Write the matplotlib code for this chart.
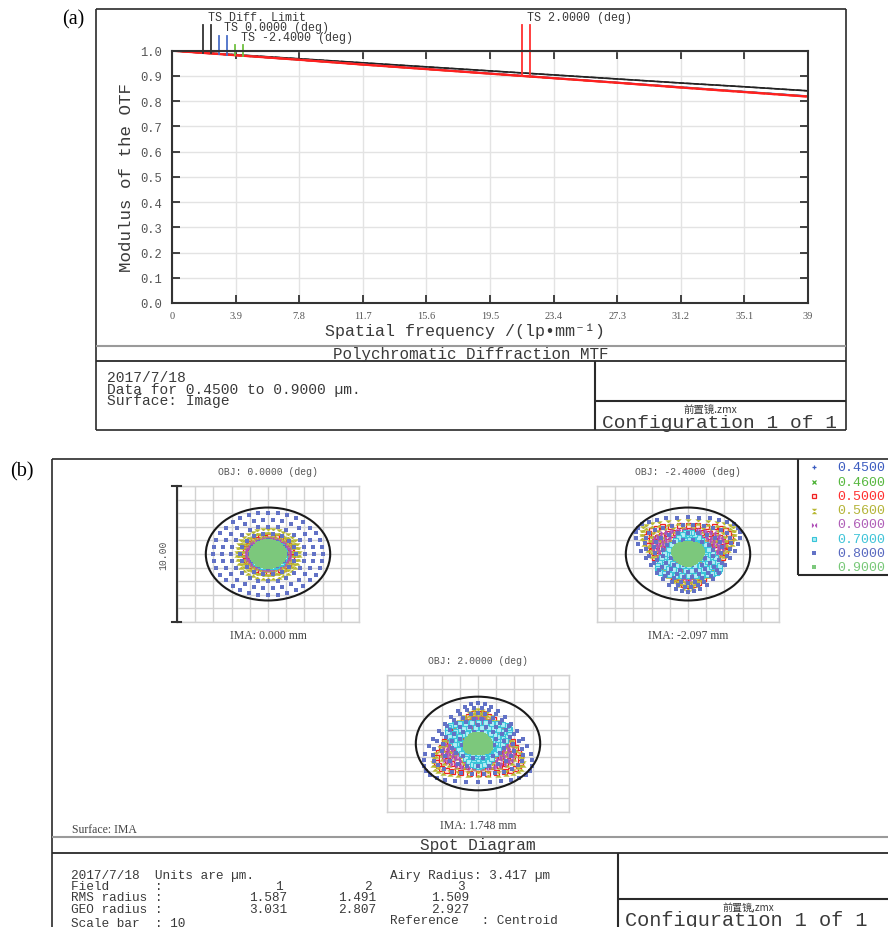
import numpy as np
import matplotlib
matplotlib.use("Agg")
import matplotlib.pyplot as plt
from matplotlib.patches import Circle

plt.rcParams['font.family'] = ['Liberation Mono', 'DejaVu Sans Mono', 'Noto Sans CJK SC']

W, H = 888, 928

# ---------------- data : MTF ----------------
freq = [0, 3.9, 7.8, 11.7, 15.6, 19.5, 23.4, 27.3, 31.2, 35.1, 39]
xtick_labels = ['0', '3.9', '7.8', '11.7', '15.6', '19.5', '23.4', '27.3', '31.2', '35.1', '39']
ytick_vals = [0.0, 0.1, 0.2, 0.3, 0.4, 0.5, 0.6, 0.7, 0.8, 0.9, 1.0]
ytick_labels = ['0.0', '0.1', '0.2', '0.3', '0.4', '0.5', '0.6', '0.7', '0.8', '0.9', '1.0']
mtf_diff = [1.000, 0.984, 0.968, 0.952, 0.936, 0.920, 0.904, 0.888, 0.872, 0.857, 0.841]
mtf_f0_T = [1.000, 0.982, 0.964, 0.946, 0.928, 0.910, 0.892, 0.874, 0.856, 0.838, 0.820]
mtf_f0_S = [1.000, 0.982, 0.964, 0.946, 0.928, 0.910, 0.892, 0.874, 0.856, 0.838, 0.820]
mtf_f1_T = [1.000, 0.982, 0.964, 0.945, 0.927, 0.909, 0.891, 0.873, 0.855, 0.837, 0.819]
mtf_f1_S = [1.000, 0.982, 0.964, 0.945, 0.927, 0.909, 0.891, 0.873, 0.855, 0.837, 0.819]
mtf_f2_T = [1.000, 0.982, 0.964, 0.945, 0.927, 0.909, 0.891, 0.873, 0.854, 0.836, 0.818]
mtf_f2_S = [1.000, 0.982, 0.964, 0.945, 0.927, 0.909, 0.891, 0.873, 0.854, 0.836, 0.818]
mtf_legend = ['TS Diff. Limit', 'TS 0.0000 (deg)', 'TS -2.4000 (deg)', 'TS 2.0000 (deg)']

# ---------------- data : spot diagram ----------------
wavelengths = ['0.4500', '0.4600', '0.5000', '0.5600', '0.6000', '0.7000', '0.8000', '0.9000']
obj_labels = ['OBJ: 0.0000 (deg)', 'OBJ: -2.4000 (deg)', 'OBJ: 2.0000 (deg)']
ima_labels = ['IMA: 0.000 mm', 'IMA: -2.097 mm', 'IMA: 1.748 mm']
airy_radius = 3.417
scale_bar = 10
# spot radius (um) and coma (um) per wavelength, per field
spot_R_f1 = [0.55, 0.60, 1.30, 1.70, 1.10, 0.90, 3.03, 0.95]
spot_C_f1 = [0.00, 0.00, 0.00, 0.00, 0.00, 0.00, 0.00, 0.00]
spot_R_f2 = [1.10, 1.20, 2.20, 2.40, 1.80, 1.60, 2.75, 0.80]
spot_C_f2 = [0.10, 0.10, 0.35, 0.45, 0.20, -0.30, 0.40, 0.05]
spot_R_f3 = [1.10, 1.20, 2.20, 2.30, 1.80, 1.60, 2.90, 0.72]
spot_C_f3 = [-0.10, -0.10, -0.35, -0.45, -0.20, 0.30, -0.40, -0.05]
field_nums = ['1', '2', '3']
rms_radius = ['1.587', '1.491', '1.509']
geo_radius = ['3.031', '2.807', '2.927']

# ---------------- helpers ----------------
fig = plt.figure(figsize=(W / 100, H / 100), dpi=100)
bg = fig.add_axes([0, 0, 1, 1])
bg.set_xlim(0, W)
bg.set_ylim(H, 0)
bg.axis('off')
bg.set_zorder(0)

DARK = '#2a2a2a'
TXT = '#3a3a3a'


def rect(x0, y0, x1, y1):
    return [x0 / W, 1 - y1 / H, (x1 - x0) / W, (y1 - y0) / H]


def hl(y, x0, x1, c=DARK, lw=1.2):
    bg.plot([x0, x1], [y, y], color=c, lw=lw, solid_capstyle='butt')


def vl(x, y0, y1, c=DARK, lw=1.2):
    bg.plot([x, x], [y0, y1], color=c, lw=lw, solid_capstyle='butt')


def txt(x, y, s, size, ha='left', va='center', color=TXT, family=None, **kw):
    kws = dict(ha=ha, va=va, color=color, fontsize=size)
    if family is not None:
        kws['family'] = family
    kws.update(kw)
    bg.text(x, y, s, **kws)


SERIF = ['Liberation Serif', 'DejaVu Serif']
CJK = ['Noto Sans CJK SC', 'Liberation Mono']

# ================= Panel (a) =================
txt(62, 20, '(a)', 14.5, family=SERIF, color='black')
hl(10, 96, 846); hl(431, 96, 846); vl(96, 10, 431); vl(846, 10, 431)
hl(347, 96, 846, c='#9a9a9a', lw=1.5)
hl(362, 96, 846, lw=1.3)
vl(595, 362, 431, lw=1.5)
hl(402, 595, 846, lw=1.5)

ax = fig.add_axes(rect(172, 51.7, 808, 304))
ax.set_zorder(2)
ax.set_xlim(0, 39)
ax.set_ylim(0, 1)
ax.set_xticks(freq)
ax.set_xticklabels(xtick_labels, family=SERIF, fontsize=7.5, color='#555')
ax.set_yticks(ytick_vals)
ax.set_yticklabels(ytick_labels, fontsize=8.7, color='#555')
ax.grid(color='#e3e3e3', lw=1)
ax.set_axisbelow(True)
ax.tick_params(direction='in', top=True, right=True, length=6, width=1.3, color='#333')
ax.tick_params(axis='x', pad=6)
ax.tick_params(axis='y', pad=7)
for sp in ax.spines.values():
    sp.set_color('#333')
    sp.set_linewidth(1.5)

ax.plot(freq, mtf_diff, color='#222', lw=1.2)
ax.plot(freq, mtf_diff, color='#222', lw=1.0, ls='--')
ax.plot(freq, mtf_f0_T, color='#4a6ec8', lw=1.2)
ax.plot(freq, mtf_f0_S, color='#4a6ec8', lw=1.0, ls='--')
ax.plot(freq, mtf_f1_T, color='#9a9a40', lw=1.2)
ax.plot(freq, mtf_f1_S, color='#9a9a40', lw=1.0, ls='--')
ax.plot(freq, mtf_f2_S, color='#ff3030', lw=1.4, ls='--')
ax.plot(freq, mtf_f2_T, color='#ff2020', lw=1.6)

# legend tick lines above curves
leg_series = [mtf_diff, mtf_f0_T, mtf_f1_T, mtf_f2_T]
leg_colors = ['#333', '#4a6ec8', '#70c040', '#ff3030']
leg_x = [(1.9, 2.4), (2.88, 3.37), (3.86, 4.35), (21.44, 21.95)]
leg_top = [1.102, 1.058, 1.023, 1.102]
for ser, col, xs, top in zip(leg_series, leg_colors, leg_x, leg_top):
    for xv in xs:
        yb = np.interp(xv, freq, ser)
        ax.plot([xv, xv], [yb, top], color=col, lw=1.3, clip_on=False)

txt(207.5, 18, mtf_legend[0], 8.4)
txt(224, 28.2, mtf_legend[1], 8.4)
txt(240.5, 38, mtf_legend[2], 8.4)
txt(526.5, 18, mtf_legend[3], 8.4)

txt(465, 331, 'Spatial frequency /(lp\u2022mm\u207b\u00b9)', 12.0, ha='center')
txt(126, 177, 'Modulus of the OTF', 12.6, ha='center', rotation=90)
txt(471, 354.5, 'Polychromatic Diffraction MTF', 11.4, ha='center')
txt(107, 378, '2017/7/18', 10.5)
txt(107, 390, 'Data for 0.4500 to 0.9000 \u00b5m.', 10.5)
txt(107, 401.5, 'Surface: Image', 10.5)
txt(710, 409.5, '\u524d\u7f6e\u955c.zmx', 7.5, ha='center', family=CJK)
txt(602, 428, 'Configuration 1 of 1', 14.0, va='baseline')

# ================= Panel (b) =================
txt(10, 472, '(b)', 14.5, family=SERIF, color='black')
vl(52, 460, 928); hl(460, 52, 888)
hl(838, 52, 888, c='#9a9a9a', lw=1.5)
hl(854, 52, 888, lw=1.3)
vl(618, 854, 928, lw=1.5)
hl(900, 618, 888, lw=1.5)
vl(797.7, 460, 575.7, lw=1.5)
hl(575.7, 797.7, 888, lw=1.5)

hourglass = [(-1, 1), (1, 1), (-1, -1), (1, -1), (-1, 1)]
bowtie = [(-1, 1), (-1, -1), (1, 1), (1, -1), (-1, 1)]
styles = [
    dict(marker='+', color='#3a5bc0', ms=3.4, mew=0.9),
    dict(marker='x', color='#48b030', ms=2.8, mew=0.9),
    dict(marker='s', mfc='#ffe4e4', mec='#f02020', ms=3.6, mew=0.9),
    dict(marker=hourglass, color='#b8b834', ms=4.6, mew=0),
    dict(marker=bowtie, color='#b050b8', ms=4.4, mew=0),
    dict(marker='s', mfc='#b0eef6', mec='#38c4d8', ms=3.6, mew=0.8),
    dict(marker='s', color='#6272c6', ms=3.5, mew=0),
    dict(marker='s', color='#7cc87c', ms=3.4, mew=0),
]
text_colors = ['#3c5cc0', '#58b840', '#ff3030', '#b4b438', '#b060b8', '#40c4d8', '#5a6ac0', '#78c878']


def spot_points(R, C, n=6):
    xs, ys = [0.0], [0.0]
    for k in range(1, n + 1):
        rho = k / n
        m = 6 * k
        th = 2 * np.pi * np.arange(m) / m
        xs.extend(R * rho * np.cos(th) + C * rho ** 2 * np.sin(2 * th))
        ys.extend(R * rho * np.sin(th) + C * rho ** 2 * (2 + np.cos(2 * th)))
    xs, ys = np.array(xs), np.array(ys)
    return xs - xs.mean(), ys - ys.mean()


def spot_axes(box, Rs, Cs):
    a = fig.add_axes(rect(*box))
    a.set_zorder(2)
    a.set_xlim(-5, 5)
    a.set_ylim(-5, 5)
    a.set_xticks(np.arange(-5, 6, 1))
    a.set_yticks(np.arange(-5, 6, 1))
    a.tick_params(length=0, labelbottom=False, labelleft=False)
    a.grid(color='#d2d2d2', lw=1)
    a.set_axisbelow(True)
    for sp in a.spines.values():
        sp.set_color('#d2d2d2')
        sp.set_linewidth(1)
    for R, C, st in zip(Rs, Cs, styles):
        x, y = spot_points(R, C)
        a.plot(x, y, ls='none', **st)
    a.add_patch(Circle((0, 0), airy_radius, fill=False, ec='#1a1a1a', lw=1.5, zorder=5))
    return a


boxes = [(177, 487, 359, 623), (597, 487, 779, 623), (387, 676, 569, 813)]
R_all = [spot_R_f1, spot_R_f2, spot_R_f3]
C_all = [spot_C_f1, spot_C_f2, spot_C_f3]
spot_ax = []
for box, Rs, Cs in zip(boxes, R_all, C_all):
    spot_ax.append(spot_axes(box, Rs, Cs))

for box, ol, il in zip(boxes, obj_labels, ima_labels):
    cx = (box[0] + box[2]) / 2
    txt(cx, box[1] - 15, ol, 7.0, ha='center', color='#555')
    txt(cx, box[3] + 13, il, 8.5, ha='center', color='#444', family=SERIF)

# scale bar on first spot diagram
a0 = spot_ax[0]
a0.plot([-5, -5], [-5, 5], color='#333', lw=1.5, clip_on=False, zorder=6)
a0.plot([-5.25, -4.8], [5, 5], color='#333', lw=1.5, clip_on=False, zorder=6)
a0.plot([-5.25, -4.8], [-5, -5], color='#333', lw=1.5, clip_on=False, zorder=6)
txt(163, 555, '%.2f' % scale_bar, 7.0, ha='center', rotation=90, color='#555')

# wavelength legend
leg_y = [468, 483, 497, 511.5, 525.5, 540, 554, 568]
for yv, wl, st, tc in zip(leg_y, wavelengths, styles, text_colors):
    st2 = dict(st)
    st2['ms'] = st['ms'] * 0.85
    bg.plot([814], [yv], ls='none', **st2)
    txt(837, yv, wl, 9.6, color=tc)

txt(72, 830, 'Surface: IMA', 8.5, family=SERIF, color='#444')
txt(478, 846, 'Spot Diagram', 11.6, ha='center')

# statistics block
FS = 9.2
txt(71, 876, '2017/7/18  Units are \u00b5m.', FS)
txt(390, 876, 'Airy Radius: %.3f \u00b5m' % airy_radius, FS)
txt(71, 887, 'Field      :', FS)
txt(71, 898.5, 'RMS radius :', FS)
txt(71, 910, 'GEO radius :', FS)
txt(71, 924, 'Scale bar  : %d' % scale_bar, FS)
txt(390, 921.5, 'Reference   : Centroid', FS)
col_x = [287, 376, 469]
for cx, fn, rr, gr in zip(col_x, field_nums, rms_radius, geo_radius):
    txt(cx - 4, 887, fn, FS, ha='right')
    txt(cx, 898.5, rr, FS, ha='right')
    txt(cx, 910, gr, FS, ha='right')

txt(748, 907.5, '\u524d\u7f6e\u955c.zmx', 7.2, ha='center', family=CJK)
txt(625, 926.5, 'Configuration 1 of 1', 14.6, va='baseline')

fig.savefig('out.png', dpi=100)
